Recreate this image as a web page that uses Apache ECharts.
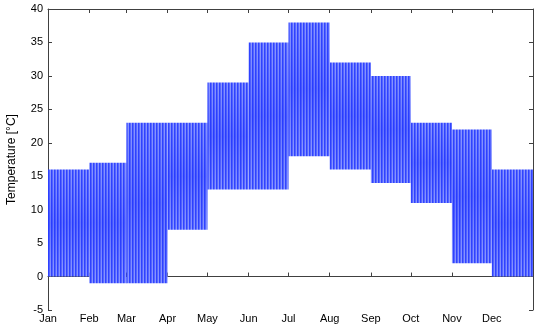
<!DOCTYPE html>
<html>
<head>
<meta charset="utf-8">
<script src="https://cdn.jsdelivr.net/npm/echarts@6/dist/echarts.min.js"></script>
<style>
  html, body { margin: 0; padding: 0; background: #fff; }
  #chart { width: 545px; height: 327px; }
</style>
</head>
<body>
<div id="chart"></div>
<script>
// month labels and the day of year at which each month starts (last = year end)
const months = ['Jan', 'Feb', 'Mar', 'Apr', 'May', 'Jun', 'Jul', 'Aug', 'Sep', 'Oct', 'Nov', 'Dec'];
const monthStart = [0, 31, 59, 90, 120, 151, 181, 212, 243, 273, 304, 334, 365];
// daily range of temperature in each month
const tempMax = [16, 17, 23, 23, 29, 35, 38, 32, 30, 23, 22, 16];
const tempMin = [0, -1, -1, 7, 13, 13, 18, 16, 14, 11, 2, 0];

// striped fill, looks like the dense oscillating line of the original
function makeStripes() {
  const c = document.createElement('canvas');
  c.width = 3; c.height = 1;
  const ctx = c.getContext('2d');
  const cols = ['#3044ff', '#5868ff', '#8a97ff'];
  cols.forEach((col, i) => { ctx.fillStyle = col; ctx.fillRect(i, 0, 1, 1); });
  return c;
}
const stripes = makeStripes();

const blocks = months.map((m, i) => [monthStart[i], monthStart[i + 1], tempMin[i], tempMax[i]]);

const chart = echarts.init(document.getElementById('chart'), null, { renderer: 'canvas' });
const axisCol = '#404040';
const font = 'Liberation Sans, Arial, sans-serif';

chart.setOption({
  animation: false,
  backgroundColor: '#fff',
  grid: { left: 48, right: 12, top: 9, bottom: 17, show: false, outerBoundsMode: 'none', containLabel: false },
  xAxis: [{
    type: 'value', min: 0, max: 365, position: 'bottom',
    axisLine: { show: true, lineStyle: { color: axisCol } },
    axisTick: { show: true, inside: true, length: 4, customValues: monthStart.slice(0, 12), lineStyle: { color: axisCol } },
    axisLabel: {
      customValues: monthStart.slice(0, 12), margin: 3, color: '#000', fontFamily: font, fontSize: 11,
      formatter: v => months[monthStart.indexOf(v)]
    },
    splitLine: { show: false }
  }, {
    type: 'value', min: 0, max: 365, position: 'top',
    axisLine: { show: true, onZero: false, lineStyle: { color: axisCol } },
    axisTick: { show: true, inside: true, length: 4, customValues: monthStart.slice(0, 12), lineStyle: { color: axisCol } },
    axisLabel: { show: false },
    splitLine: { show: false }
  }],
  yAxis: [{
    type: 'value', min: -5, max: 40, interval: 5,
    name: 'Temperature [\u00b0C]', nameLocation: 'middle', nameGap: 30,
    nameTextStyle: { color: '#000', fontFamily: font, fontSize: 12 },
    axisLine: { show: true, onZero: false, lineStyle: { color: axisCol } },
    axisTick: { show: true, inside: true, length: 4, lineStyle: { color: axisCol } },
    axisLabel: { margin: 5, color: '#000', fontFamily: font, fontSize: 11 },
    splitLine: { show: false }
  }, {
    type: 'value', min: -5, max: 40, interval: 5, position: 'right',
    axisLine: { show: true, onZero: false, lineStyle: { color: axisCol } },
    axisTick: { show: true, inside: true, length: 4, lineStyle: { color: axisCol } },
    axisLabel: { show: false },
    splitLine: { show: false }
  }],
  series: [{
    type: 'custom',
    xAxisIndex: 0, yAxisIndex: 0,
    data: blocks,
    encode: { x: [0, 1], y: [2, 3] },
    renderItem: (params, api) => {
      const p1 = api.coord([api.value(0), api.value(3)]);
      const p2 = api.coord([api.value(1), api.value(2)]);
      const shape = { x: p1[0], y: p1[1], width: p2[0] - p1[0], height: p2[1] - p1[1] };
      return {
        type: 'group',
        children: [{
          type: 'rect', shape,
          style: { fill: { image: stripes, repeat: 'repeat' } }
        }, {
          type: 'rect', shape,
          style: {
            fill: new echarts.graphic.LinearGradient(0, 0, 0, 1, [
              { offset: 0, color: 'rgba(20,40,255,0)' },
              { offset: 0.5, color: 'rgba(20,40,255,0.3)' },
              { offset: 1, color: 'rgba(20,40,255,0)' }
            ])
          }
        }]
      };
    }
  }]
});
</script>
</body>
</html>
